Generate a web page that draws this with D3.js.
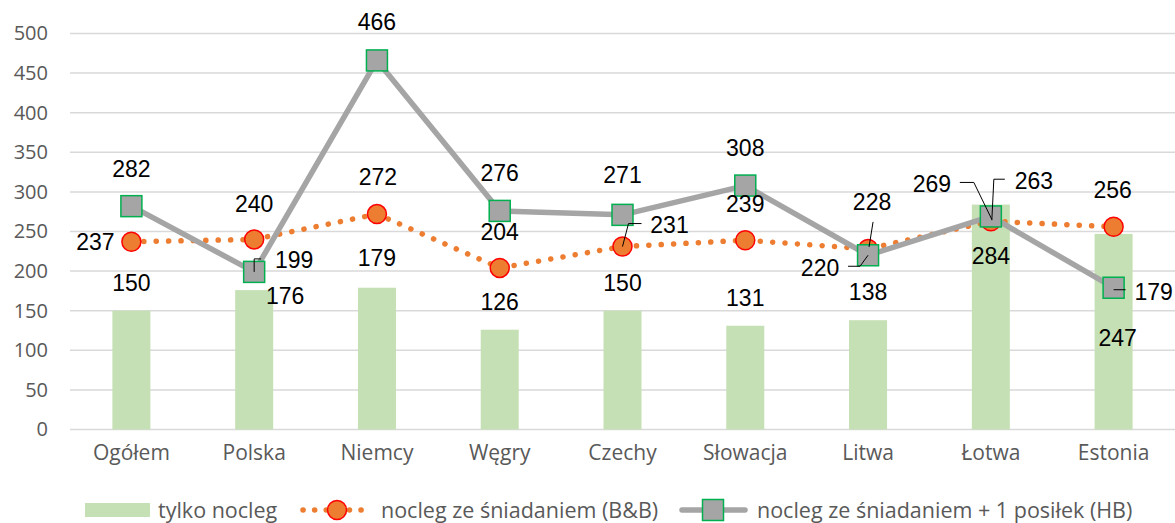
<!DOCTYPE html>
<html>
<head>
<meta charset="utf-8">
<script src="https://cdn.jsdelivr.net/npm/d3@7"></script>
<style>
  body { margin: 0; background: #fff; }
  .y-label { font-family: "Open Sans", sans-serif; font-size: 20px; fill: #595959; }
  .x-label { font-family: "Open Sans", sans-serif; font-size: 21px; fill: #595959; }
  .data-label { font-family: "Liberation Sans", Arial, sans-serif; font-size: 23px; fill: #000; }
  .legend-label { font-family: "Open Sans", sans-serif; font-size: 21.5px; fill: #595959; }
</style>
</head>
<body>
<svg id="chart" width="1175" height="523"></svg>
<script>
const categories = ["Ogółem", "Polska", "Niemcy", "Węgry", "Czechy", "Słowacja", "Litwa", "Łotwa", "Estonia"];
const tylkoNocleg = [150, 176, 179, 126, 150, 131, 138, 284, 247];
const bnb = [237, 240, 272, 204, 231, 239, 228, 263, 256];
const hb = [282, 199, 466, 276, 271, 308, 220, 269, 179];
const yTicks = [0, 50, 100, 150, 200, 250, 300, 350, 400, 450, 500];
const seriesNames = ["tylko nocleg", "nocleg ze śniadaniem (B&B)", "nocleg ze śniadaniem + 1 posiłek (HB)"];

// label placement (offset from the point, px) and leader lines
const barLabelPos = [[0, -28], [31, 6], [0, -30], [0, -28], [0, -28], [0, -28], [0, -28], [0, 51], [4, 104]];
const bnbLabelPos = [[-36, 0], [0, -36], [1, -37], [0, -36], [47, -22], [0, -36], [4, -47], [43, -40], [-1, -37]];
const hbLabelPos = [[0, -37], [40, -12], [0, -39], [0, -38], [0, -40], [0, -38], [-48, 12], [-59, -33], [40, 4]];
const bnbLeaders = { 4: [[0, 0], [6, -23], [19, -23]], 6: [[1, -2], [5, -27]], 7: [[1, -1], [3, -42], [14, -42]] };
const hbLeaders = { 1: [[0, 0], [0, -13], [7, -13]], 6: [[0, 0], [-8, 11], [-20, 11]], 7: [[1, 3], [-17, -34], [-31, -34]], 8: [[0, 2], [12, 2]] };

const svg = d3.select("#chart");

const x = d3.scaleBand().domain(categories).range([70, 1175]);
const y = d3.scaleLinear().domain([0, 500]).range([429.5, 33.5]);
const cx = (c) => x(c) + x.bandwidth() / 2;

// gridlines
svg.append("g")
  .selectAll("line")
  .data(yTicks)
  .enter()
  .append("line")
  .attr("x1", 70)
  .attr("x2", 1175)
  .attr("y1", (d) => y(d))
  .attr("y2", (d) => y(d))
  .attr("stroke", "#d9d9d9")
  .attr("stroke-width", 1.5);

// y axis labels
const yAxis = svg.append("g")
  .attr("transform", "translate(48,0)")
  .call(d3.axisLeft(y).tickValues(yTicks).tickSize(0).tickPadding(0));
yAxis.select(".domain").remove();
yAxis.selectAll("text").attr("class", "y-label").attr("font-size", null).attr("font-family", null);
yAxis.attr("font-size", null).attr("font-family", null);

// x axis labels
const xAxis = svg.append("g")
  .attr("transform", "translate(0,445)")
  .call(d3.axisBottom(x).tickSize(0).tickPadding(0));
xAxis.select(".domain").remove();
xAxis.selectAll("text").attr("class", "x-label");
xAxis.attr("font-size", null).attr("font-family", null);

// bars
const barW = 38;
svg.append("g")
  .selectAll("rect")
  .data(tylkoNocleg)
  .enter()
  .append("rect")
  .attr("x", (d, i) => cx(categories[i]) - barW / 2)
  .attr("y", (d) => y(d))
  .attr("width", barW)
  .attr("height", (d) => y(0) - y(d))
  .attr("fill", "#c5e0b4");

// B&B line
const line = d3.line().x((d, i) => cx(categories[i])).y((d) => y(d));
svg.append("path")
  .datum(bnb)
  .attr("d", line)
  .attr("fill", "none")
  .attr("stroke", "#ed7d31")
  .attr("stroke-width", 5.5)
  .attr("stroke-linecap", "round")
  .attr("stroke-dasharray", "0.1 12.3");
svg.append("g")
  .selectAll("circle")
  .data(bnb)
  .enter()
  .append("circle")
  .attr("cx", (d, i) => cx(categories[i]))
  .attr("cy", (d) => y(d))
  .attr("r", 9.5)
  .attr("fill", "#ed7d31")
  .attr("stroke", "#ff0000")
  .attr("stroke-width", 1.5);

// HB line
svg.append("path")
  .datum(hb)
  .attr("d", line)
  .attr("fill", "none")
  .attr("stroke", "#a5a5a5")
  .attr("stroke-width", 5.5)
  .attr("stroke-linejoin", "round");
const sq = 21;
svg.append("g")
  .selectAll("rect")
  .data(hb)
  .enter()
  .append("rect")
  .attr("x", (d, i) => cx(categories[i]) - sq / 2)
  .attr("y", (d) => y(d) - sq / 2)
  .attr("width", sq)
  .attr("height", sq)
  .attr("fill", "#a5a5a5")
  .attr("stroke", "#00b050")
  .attr("stroke-width", 1.5);

// leader lines
function drawLeaders(values, leaders) {
  Object.keys(leaders).forEach((k) => {
    const i = +k;
    const px = cx(categories[i]), py = y(values[i]);
    svg.append("polyline")
      .attr("points", leaders[k].map((p) => `${px + p[0]},${py + p[1]}`).join(" "))
      .attr("fill", "none")
      .attr("stroke", "#000")
      .attr("stroke-width", 1);
  });
}
drawLeaders(bnb, bnbLeaders);
drawLeaders(hb, hbLeaders);

// data labels
function drawLabels(values, pos) {
  svg.append("g")
    .selectAll("text")
    .data(values)
    .enter()
    .append("text")
    .attr("class", "data-label")
    .attr("x", (d, i) => cx(categories[i]) + pos[i][0])
    .attr("y", (d, i) => y(d) + pos[i][1])
    .attr("text-anchor", "middle")
    .attr("dy", "0.36em")
    .text((d) => d);
}
drawLabels(tylkoNocleg, barLabelPos);
drawLabels(bnb, bnbLabelPos);
drawLabels(hb, hbLabelPos);

// legend
const legend = svg.append("g").attr("transform", "translate(0,510)");
legend.append("rect").attr("x", 85).attr("y", -7).attr("width", 65).attr("height", 14).attr("fill", "#c5e0b4");
legend.append("text").attr("class", "legend-label").attr("x", 158).attr("dy", "0.35em").text(seriesNames[0]);

legend.append("line").attr("x1", 303).attr("x2", 368).attr("y1", 0).attr("y2", 0)
  .attr("stroke", "#ed7d31").attr("stroke-width", 5.5).attr("stroke-linecap", "round").attr("stroke-dasharray", "0.1 11.5");
legend.append("circle").attr("cx", 337).attr("cy", 0).attr("r", 9.5)
  .attr("fill", "#ed7d31").attr("stroke", "#ff0000").attr("stroke-width", 1.5);
legend.append("text").attr("class", "legend-label").attr("x", 381).attr("dy", "0.35em").text(seriesNames[1]);

legend.append("line").attr("x1", 682).attr("x2", 745).attr("y1", 0).attr("y2", 0)
  .attr("stroke", "#a5a5a5").attr("stroke-width", 5.5).attr("stroke-linecap", "round");
legend.append("rect").attr("x", 713 - sq / 2).attr("y", -sq / 2).attr("width", sq).attr("height", sq)
  .attr("fill", "#a5a5a5").attr("stroke", "#00b050").attr("stroke-width", 1.5);
legend.append("text").attr("class", "legend-label").attr("x", 757).attr("dy", "0.35em").text(seriesNames[2]);
</script>
</body>
</html>
